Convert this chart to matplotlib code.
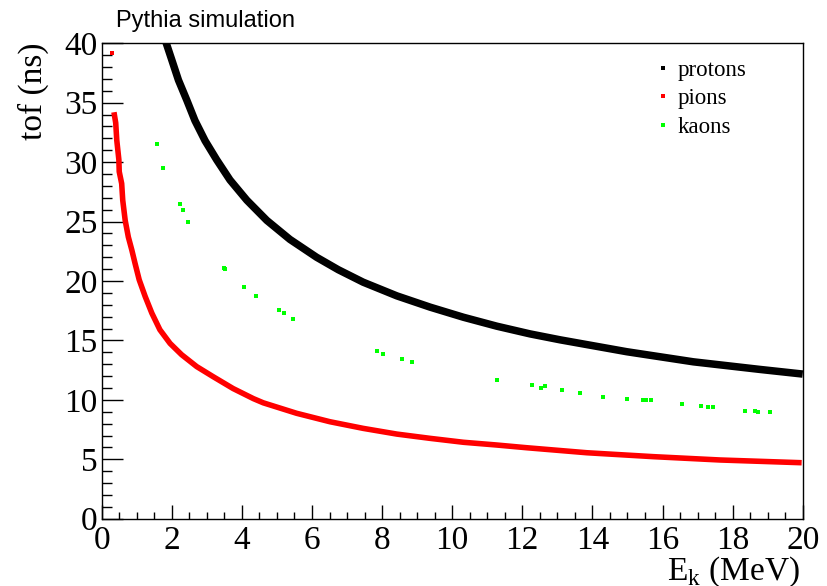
import matplotlib
matplotlib.use("Agg")
import matplotlib.pyplot as plt
from matplotlib.lines import Line2D

# proton band (E_k in MeV, tof in ns)
proton_ek = [1.82, 2.00, 2.19, 2.43, 2.66, 2.95, 3.28, 3.66, 4.14, 4.71, 5.37, 6.13, 6.75,
             7.46, 8.42, 9.37, 10.32, 11.27, 12.22, 13.08, 14.98, 16.88, 18.78, 20.0]
proton_tof = [40.2, 38.6, 36.9, 35.2, 33.5, 31.8, 30.2, 28.5, 26.8, 25.1, 23.5, 22.0, 20.95,
              19.9, 18.75, 17.8, 16.95, 16.2, 15.55, 15.05, 14.05, 13.2, 12.56, 12.17]

# pion band
pion_ek = [0.35, 0.40, 0.43, 0.49, 0.50, 0.57, 0.60, 0.67, 0.76, 0.86, 0.95, 1.07, 1.24,
           1.43, 1.66, 1.95, 2.28, 2.71, 3.18, 3.75, 4.33, 4.61, 5.56, 6.51, 7.46, 8.42,
           9.37, 10.32, 11.27, 12.13, 13.84, 15.74, 17.64, 19.97]
pion_tof = [34.2, 33.3, 31.85, 30.2, 29.2, 28.2, 26.8, 25.1, 23.7, 22.6, 21.5, 20.1, 18.7,
            17.3, 15.9, 14.75, 13.8, 12.8, 11.95, 10.95, 10.1, 9.75, 8.87, 8.16, 7.6, 7.12,
            6.76, 6.43, 6.2, 5.97, 5.55, 5.22, 4.94, 4.71]
pion_lone_ek = [0.285]
pion_lone_tof = [39.15]

# kaon points
kaon_ek = [1.57, 1.76, 2.23, 2.31, 2.45, 3.49, 3.53, 4.06, 4.39, 5.06, 5.20, 5.45, 7.85,
           8.03, 8.58, 8.84, 11.29, 12.29, 12.53, 12.65, 13.12, 13.65, 14.31, 14.98,
           15.43, 15.53, 15.66, 16.55, 17.10, 17.31, 17.45, 18.36, 18.64, 18.73, 19.07]
kaon_tof = [31.5, 29.5, 26.5, 26.0, 25.0, 21.1, 21.0, 19.5, 18.7, 17.6, 17.3, 16.8, 14.1,
            13.85, 13.4, 13.2, 11.7, 11.25, 11.0, 11.13, 10.83, 10.6, 10.27, 10.07,
            9.96, 9.96, 9.96, 9.62, 9.51, 9.40, 9.40, 9.09, 9.09, 8.98, 8.98]

x_ticks = [0, 2, 4, 6, 8, 10, 12, 14, 16, 18, 20]
y_ticks = [0, 5, 10, 15, 20, 25, 30, 35, 40]

plt.rcParams["font.family"] = ["Liberation Serif", "DejaVu Serif"]
plt.rcParams["mathtext.fontset"] = "custom"
plt.rcParams["mathtext.rm"] = "Liberation Serif"

fig = plt.figure(figsize=(8.28, 5.86), dpi=100)
ax = fig.add_axes([101.7 / 828, 67.3 / 586, 701 / 828, 475.4 / 586])

ax.plot(proton_ek, proton_tof, color="black", lw=5.4, solid_capstyle="butt",
        solid_joinstyle="round")
ax.plot(pion_ek, pion_tof, color="red", lw=4.0, solid_capstyle="butt",
        solid_joinstyle="round")
ax.plot(pion_lone_ek, pion_lone_tof, "s", color="red", ms=3, mew=0)
ax.plot(kaon_ek, kaon_tof, "s", color="#00ff00", ms=3, mew=0, ls="none")

ax.set_xlim(0, 20)
ax.set_ylim(0, 40)
ax.set_xticks(x_ticks)
ax.set_yticks(y_ticks)
ax.set_xticks([v / 2 for v in range(41)], minor=True)
ax.set_yticks(range(41), minor=True)
ax.tick_params(axis="both", which="both", direction="in", top=False, right=False,
               width=1.0, labelsize=24)
ax.tick_params(axis="y", which="major", length=15, pad=3)
ax.tick_params(axis="y", which="minor", length=7)
ax.tick_params(axis="x", which="major", length=10, pad=5)
ax.tick_params(axis="x", which="minor", length=5)
for s in ax.spines.values():
    s.set_linewidth(1.0)

fig.text(33.5 / 828, (586 - 43) / 586, "tof (ns)", rotation=90, ha="center", va="top",
         fontsize=24)
fig.text(800 / 828, 6 / 586, r"E$_{\mathrm{k}}$ (MeV)", ha="right", va="baseline",
         fontsize=24)
fig.text(116 / 828, (586 - 26.7) / 586, "Pythia simulation", ha="left", va="baseline",
         fontsize=17, family=["Liberation Sans", "DejaVu Sans"])

handles = [
    Line2D([], [], marker="s", color="black", ls="none", ms=3, mew=0),
    Line2D([], [], marker="s", color="red", ls="none", ms=3, mew=0),
    Line2D([], [], marker="s", color="#00ff00", ls="none", ms=3, mew=0),
]
ax.legend(handles, ["protons", "pions", "kaons"], loc="upper left",
          bbox_to_anchor=((655 - 101.7) / 701, 1 - (60 - 43.3) / 475.4),
          frameon=False, fontsize=16.5, handlelength=0.7, handletextpad=0.3,
          labelspacing=0.32, borderpad=0, borderaxespad=0)

fig.savefig("out.png", dpi=100)
